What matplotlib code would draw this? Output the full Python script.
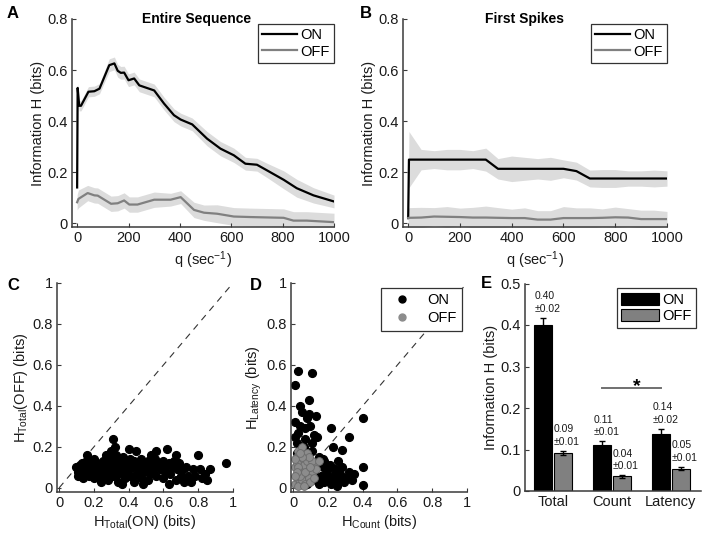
import numpy as np
import matplotlib
matplotlib.use("Agg")
import matplotlib.pyplot as plt
from matplotlib.patches import Patch
from matplotlib.lines import Line2D

plt.rcParams['font.family'] = ['Liberation Sans', 'DejaVu Sans']
plt.rcParams['font.size'] = 10.5
plt.rcParams['mathtext.fontset'] = 'custom'
plt.rcParams['mathtext.rm'] = 'Liberation Sans'
plt.rcParams['mathtext.it'] = 'Liberation Sans'

# ---- panel A: entire sequence ----
q_on_a = [0, 2, 8, 15, 44, 67, 87, 106, 125, 145, 158, 170, 183, 200, 222, 242,
          300, 338, 377, 403, 448, 506, 558, 610, 655, 700, 739, 804, 855, 920, 1000]
h_on_a = [0.14, 0.53, 0.46, 0.46, 0.515, 0.517, 0.527, 0.573, 0.619, 0.626, 0.597,
          0.589, 0.59, 0.56, 0.567, 0.54, 0.52, 0.469, 0.423, 0.406, 0.387, 0.331,
          0.292, 0.266, 0.233, 0.229, 0.207, 0.17, 0.137, 0.109, 0.085]
e_on_a = [0.02, 0.02, 0.02, 0.02, 0.02, 0.02, 0.02, 0.022, 0.025, 0.025, 0.025,
          0.025, 0.025, 0.025, 0.025, 0.025, 0.025, 0.025, 0.025, 0.025, 0.025, 0.028,
          0.028, 0.028, 0.025, 0.025, 0.028, 0.035, 0.035, 0.03, 0.025]

q_off_a = [0, 5, 41, 67, 80, 132, 158, 183, 203, 235, 300, 364, 403, 455, 494,
           545, 610, 674, 804, 842, 894, 1000]
h_off_a = [0.082, 0.095, 0.118, 0.109, 0.108, 0.076, 0.078, 0.089, 0.073, 0.073,
           0.092, 0.092, 0.102, 0.052, 0.041, 0.037, 0.026, 0.024, 0.021, 0.010,
           0.010, 0.004]
e_off_a = [0.03, 0.035, 0.03, 0.03, 0.03, 0.03, 0.03, 0.03, 0.03, 0.03, 0.03,
           0.025, 0.025, 0.03, 0.03, 0.035, 0.035, 0.035, 0.035, 0.035, 0.035, 0.035]

# ---- panel B: first spikes ----
q_b = [0, 3, 50, 100, 150, 200, 250, 300, 347, 400, 450, 500, 550, 600, 650, 702,
       750, 800, 850, 900, 950, 1000]
h_on_b = [0.02, 0.249, 0.249, 0.249, 0.249, 0.249, 0.249, 0.249, 0.213, 0.213,
          0.213, 0.213, 0.213, 0.213, 0.204, 0.175, 0.175, 0.175, 0.175, 0.175,
          0.175, 0.175]
e_on_b = [0.02, 0.11, 0.04, 0.035, 0.04, 0.04, 0.035, 0.045, 0.04, 0.05, 0.045,
          0.04, 0.045, 0.035, 0.035, 0.033, 0.035, 0.035, 0.03, 0.03, 0.033, 0.03]
h_off_b = [0.02, 0.021, 0.022, 0.026, 0.025, 0.024, 0.022, 0.022, 0.021, 0.02, 0.02,
           0.014, 0.014, 0.02, 0.02, 0.02, 0.021, 0.023, 0.022, 0.016, 0.016, 0.016]
e_off_b = [0.03, 0.04, 0.04, 0.035, 0.04, 0.035, 0.04, 0.045, 0.04, 0.035, 0.04,
           0.035, 0.035, 0.045, 0.04, 0.04, 0.035, 0.04, 0.035, 0.035, 0.035, 0.03]

# ---- panel C: H_total ON vs OFF ----
c_pts = [(0.10,0.10),(0.11,0.08),(0.11,0.06),(0.12,0.11),(0.12,0.09),(0.13,0.07),(0.13,0.12),
         (0.14,0.10),(0.14,0.05),(0.15,0.08),(0.15,0.11),(0.16,0.16),(0.16,0.13),(0.17,0.09),
         (0.17,0.06),(0.18,0.12),(0.18,0.07),(0.19,0.10),(0.20,0.05),(0.20,0.14),(0.21,0.09),
         (0.22,0.12),(0.22,0.06),(0.23,0.10),(0.24,0.03),(0.24,0.08),(0.25,0.13),(0.26,0.11),
         (0.26,0.06),(0.27,0.16),(0.27,0.09),(0.28,0.04),(0.28,0.12),(0.29,0.08),(0.30,0.18),
         (0.30,0.14),(0.30,0.10),(0.31,0.24),(0.31,0.06),(0.32,0.20),(0.32,0.12),(0.33,0.09),
         (0.33,0.16),(0.34,0.03),(0.34,0.07),(0.35,0.13),(0.35,0.10),(0.36,0.02),(0.37,0.15),
         (0.37,0.08),(0.38,0.11),(0.38,0.05),(0.39,0.12),(0.40,0.19),(0.40,0.09),(0.41,0.14),
         (0.41,0.06),(0.42,0.10),(0.43,0.03),(0.43,0.13),(0.44,0.07),(0.44,0.18),(0.45,0.11),
         (0.46,0.09),(0.47,0.05),(0.47,0.14),(0.48,0.02),(0.48,0.12),(0.49,0.08),(0.50,0.10),
         (0.51,0.04),(0.51,0.13),(0.52,0.07),(0.53,0.16),(0.53,0.11),(0.54,0.09),(0.55,0.14),
         (0.56,0.18),(0.56,0.06),(0.57,0.12),(0.58,0.09),(0.59,0.10),(0.60,0.05),(0.60,0.13),
         (0.61,0.08),(0.62,0.11),(0.62,0.19),(0.63,0.02),(0.63,0.12),(0.64,0.07),(0.65,0.10),
         (0.66,0.13),(0.67,0.04),(0.67,0.16),(0.68,0.09),(0.69,0.12),(0.70,0.06),(0.71,0.09),
         (0.72,0.03),(0.73,0.10),(0.74,0.06),(0.76,0.03),(0.77,0.09),(0.78,0.06),(0.80,0.16),
         (0.81,0.09),(0.82,0.05),(0.84,0.07),(0.85,0.04),(0.87,0.09),(0.96,0.12)]

# ---- panel D: H_count vs H_latency ----
d_on = [(0.03,0.57),(0.11,0.56),(0.01,0.50),(0.09,0.43),(0.04,0.40),(0.05,0.37),(0.09,0.36),
        (0.13,0.35),(0.08,0.34),(0.01,0.32),(0.40,0.34),(0.07,0.29),(0.22,0.29),(0.14,0.25),
        (0.32,0.25),(0.03,0.27),(0.01,0.25),(0.02,0.22),(0.11,0.22),(0.23,0.20),(0.28,0.185),
        (0.06,0.20),(0.04,0.30),(0.10,0.30),(0.12,0.26),(0.02,0.17),(0.06,0.14),(0.09,0.11),
        (0.12,0.08),(0.13,0.04),(0.15,0.02),(0.16,0.06),(0.17,0.10),(0.18,0.03),(0.19,0.07),
        (0.20,0.05),(0.21,0.11),(0.22,0.02),(0.23,0.06),(0.24,0.09),(0.25,0.04),(0.26,0.13),
        (0.27,0.07),(0.28,0.10),(0.29,0.03),(0.30,0.05),(0.32,0.08),(0.34,0.04),(0.35,0.07),
        (0.40,0.10),(0.40,0.015),(0.14,0.12),(0.17,0.14),(0.11,0.05),(0.08,0.02),(0.05,0.08),
        (0.03,0.12),(0.20,0.09),(0.15,0.15),(0.25,0.01),(0.18,0.13),(0.07,0.24),(0.11,0.18)]
d_off = [(0.01,0.02),(0.02,0.05),(0.03,0.08),(0.04,0.03),(0.05,0.10),(0.06,0.06),(0.07,0.12),
         (0.08,0.04),(0.09,0.09),(0.10,0.14),(0.11,0.07),(0.12,0.11),(0.02,0.15),(0.03,0.18),
         (0.05,0.20),(0.06,0.16),(0.08,0.17),(0.04,0.13),(0.01,0.10),(0.02,0.12),(0.03,0.01),
         (0.05,0.04),(0.07,0.02),(0.09,0.05),(0.10,0.03),(0.06,0.11),(0.08,0.13),(0.03,0.10),
         (0.04,0.06),(0.02,0.08),(0.01,0.06),(0.07,0.08),(0.11,0.13),(0.12,0.05),(0.13,0.09),
         (0.09,0.15),(0.05,0.15),(0.01,0.14),(0.04,0.17),(0.06,0.01),(0.10,0.10),(0.15,0.13)]

# ---- panel E: bars ----
bar_cats = ['Total', 'Count', 'Latency']
on_mean = [0.40, 0.11, 0.138]
on_err = [0.017, 0.01, 0.012]
off_mean = [0.092, 0.035, 0.054]
off_err = [0.005, 0.003, 0.004]
on_txt = ['0.40\n\u00b10.02', '0.11\n\u00b10.01', '0.14\n\u00b10.02']
off_txt = ['0.09\n\u00b10.01', '0.04\n\u00b10.01', '0.05\n\u00b10.01']

W, H = 708, 536
fig = plt.figure(figsize=(W / 100, H / 100), dpi=100)

def px_axes(x0, y0, x1, y1):
    return fig.add_axes([x0 / W, 1 - y1 / H, (x1 - x0) / W, (y1 - y0) / H])

spine_col = '#3a3a3a'
txt_col = '#1a1a1a'

def style(ax):
    for s in ['top', 'right']:
        ax.spines[s].set_visible(False)
    for s in ['left', 'bottom']:
        ax.spines[s].set_color(spine_col)
        ax.spines[s].set_linewidth(1.1)
    ax.tick_params(direction='in', length=3, width=0.8, color=spine_col,
                   labelsize=10.5, labelcolor=txt_col, pad=3)

def num_lbl(v):
    return '0' if v == 0 else ('%g' % v)

def panel_letter(x, y, s):
    fig.text(x / W, 1 - y / H, s, fontsize=12, fontweight='bold', ha='left', va='center')

# A and B
for rect, qa, hon, eon, qo, hoff, eoff, title, tx in [
        ((72, 19, 334, 227), q_on_a, h_on_a, e_on_a, q_off_a, h_off_a, e_off_a, 'Entire Sequence', 0.477),
        ((403, 19, 667, 227), q_b, h_on_b, e_on_b, q_b, h_off_b, e_off_b, 'First Spikes', 0.462)]:
    ax = px_axes(*rect)
    style(ax)
    hon, eon, hoff, eoff = map(np.array, (hon, eon, hoff, eoff))
    ax.fill_between(qa, hon - eon, hon + eon, color='#dcdcdc', lw=0)
    ax.fill_between(qo, hoff - eoff, hoff + eoff, color='#dcdcdc', lw=0)
    ax.plot(qa, hon, color='black', lw=1.6, label='ON')
    ax.plot(qo, hoff, color='#808080', lw=1.6, label='OFF')
    ax.set_xlim(-20, 1000)
    ax.set_ylim(-0.015, 0.8)
    ax.set_xticks(range(0, 1001, 200))
    ax.set_yticks([0, 0.2, 0.4, 0.6, 0.8])
    ax.set_yticklabels([num_lbl(v) for v in [0, 0.2, 0.4, 0.6, 0.8]])
    ax.spines['left'].set_bounds(-0.015, 0.8)
    ax.set_xlabel('q (sec$^{-1}$)', color=txt_col, labelpad=3)
    ax.set_ylabel('Information H (bits)', color=txt_col, labelpad=2)
    ax.text(tx, 1.0, title, transform=ax.transAxes, ha='center', va='center',
            fontsize=10, fontweight='bold')
    leg = ax.legend(loc='upper right', bbox_to_anchor=(1.0, 0.976), fontsize=10.5,
                    handlelength=2.4, handletextpad=0.2, labelspacing=0.15,
                    borderpad=0.3, borderaxespad=0, fancybox=False, framealpha=1)
    leg.get_frame().set_edgecolor('#333333')
    leg.get_frame().set_linewidth(0.9)

ticks01 = [0, 0.2, 0.4, 0.6, 0.8, 1]

# C
axc = px_axes(57, 283, 233, 492)
style(axc)
axc.plot([0, 1], [0, 1], color='#333333', lw=0.8, dashes=(6, 5))
axc.plot([p[0] for p in c_pts], [p[1] for p in c_pts], 'o', color='black', ms=5.6)
axc.set_xlim(-0.012, 1)
axc.set_ylim(-0.02, 1)
axc.set_xticks(ticks01)
axc.set_yticks(ticks01)
axc.set_xticklabels([num_lbl(v) for v in ticks01])
axc.set_yticklabels([num_lbl(v) for v in ticks01])
axc.set_xlabel('H$_{\\mathregular{Total}}$(ON) (bits)', color=txt_col, labelpad=2)
axc.set_ylabel('H$_{\\mathregular{Total}}$(OFF) (bits)', color=txt_col, labelpad=2)

# D
axd = px_axes(291, 283, 467, 492)
style(axd)
axd.plot([0, 1], [0, 1], color='#333333', lw=0.8, dashes=(6, 5))
axd.plot([p[0] for p in d_on], [p[1] for p in d_on], 'o', color='black', ms=5.6)
axd.plot([p[0] for p in d_off], [p[1] for p in d_off], 'o', mfc='#8c8c8c', mec='#6a6a6a',
         mew=0.6, ms=5.6)
axd.set_xlim(-0.012, 1)
axd.set_ylim(-0.02, 1)
axd.set_xticks(ticks01)
axd.set_yticks(ticks01)
axd.set_xticklabels([num_lbl(v) for v in ticks01])
axd.set_yticklabels([num_lbl(v) for v in ticks01])
axd.set_xlabel('H$_{\\mathregular{Count}}$ (bits)', color=txt_col, labelpad=2)
axd.set_ylabel('H$_{\\mathregular{Latency}}$ (bits)', color=txt_col, labelpad=2)
hd = [Line2D([], [], ls='', marker='o', color='black', ms=5),
      Line2D([], [], ls='', marker='o', color='#8c8c8c', ms=5)]
leg = axd.legend(hd, ['ON', 'OFF'], loc='upper right', bbox_to_anchor=(0.97, 0.976),
                 fontsize=10.5, handlelength=2.2, handletextpad=0.6, labelspacing=0.3,
                 borderpad=0.35, borderaxespad=0, fancybox=False, framealpha=1)
leg.get_frame().set_edgecolor('#333333')
leg.get_frame().set_linewidth(0.9)

# E
axe = px_axes(525, 283.5, 701, 491)
style(axe)
xg = np.arange(1, len(bar_cats) + 1)
off = 0.165
bw = 0.3
axe.bar(xg - off, on_mean, bw, color='black', edgecolor='black', lw=0.8, label='ON')
axe.bar(xg + off, off_mean, bw, color='#808080', edgecolor='black', lw=0.8, label='OFF')
axe.errorbar(xg - off, on_mean, yerr=on_err, fmt='none', ecolor='black', elinewidth=1.0,
             capsize=2.5, capthick=1.0)
axe.errorbar(xg + off, off_mean, yerr=off_err, fmt='none', ecolor='black', elinewidth=1.0,
             capsize=2.5, capthick=1.0)
for i in range(len(bar_cats)):
    axe.text(xg[i] - off - bw / 2, on_mean[i] + on_err[i] + 0.01, on_txt[i], fontsize=7.5,
             ha='left', va='bottom', color=txt_col, linespacing=1.3)
    axe.text(xg[i] + off - bw / 2, off_mean[i] + off_err[i] + 0.01, off_txt[i], fontsize=7.5,
             ha='left', va='bottom', color=txt_col, linespacing=1.3)
axe.plot([xg[1] - off, xg[2] - off], [0.248, 0.248], color='#707070', lw=1.4)
axe.text((xg[1] + xg[2]) / 2 - 0.08, 0.252, '*', ha='center', va='center', fontsize=14,
         fontweight='bold')
axe.set_xlim(0.525, 3.51)
axe.set_ylim(0, 0.5)
axe.set_xticks(xg)
axe.set_xticklabels(bar_cats)
axe.tick_params(axis='x', length=0)
yt = [0, 0.1, 0.2, 0.3, 0.4, 0.5]
axe.set_yticks(yt)
axe.set_yticklabels([num_lbl(v) for v in yt])
axe.set_ylabel('Information H (bits)', color=txt_col, labelpad=2)
leg = axe.legend(loc='upper right', bbox_to_anchor=(0.97, 0.976), fontsize=10.5,
                 handlelength=2.6, handleheight=0.9, handletextpad=0.2, labelspacing=0.15,
                 borderpad=0.3, borderaxespad=0, fancybox=False, framealpha=1)
leg.get_frame().set_edgecolor('#333333')
leg.get_frame().set_linewidth(0.9)

panel_letter(7, 14, 'A')
panel_letter(360, 14, 'B')
panel_letter(7, 286, 'C')
panel_letter(250, 286, 'D')
panel_letter(481, 283, 'E')

fig.savefig('out.png', dpi=100)
